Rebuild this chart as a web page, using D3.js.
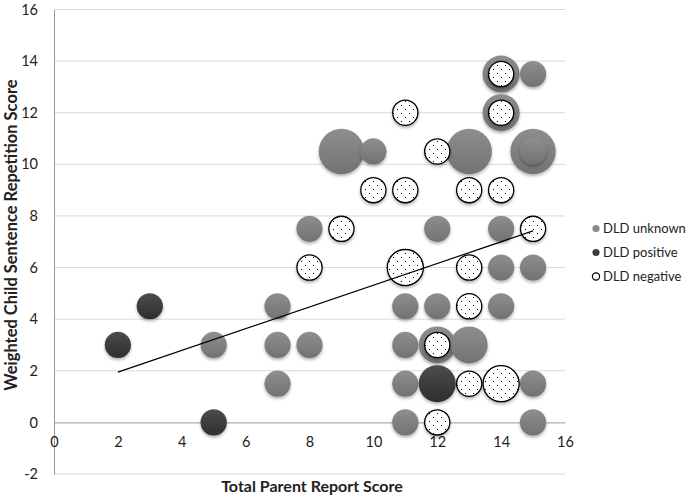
<!DOCTYPE html>
<html><head><meta charset="utf-8">
<script src="https://cdn.jsdelivr.net/npm/d3@7/dist/d3.min.js"></script>
<style>body{margin:0;background:#fff;}svg{display:block;font-family:Lato,"Open Sans",sans-serif;}</style>
</head><body><svg id="c" width="688" height="499"></svg>
<script>
// Data (x = Total Parent Report Score, y = Weighted Child Sentence Repetition Score, s = bubble size)
const unknownX = [5,7,7,7,8,8,9,10,11,11,11,11,12,12,12,13,13,14,14,14,14,14,15,15,15,15,15,15];
const unknownY = [3,4.5,3,1.5,7.5,3,10.5,10.5,4.5,3,1.5,0,7.5,4.5,3,10.5,3,13.5,12,7.5,6,4.5,13.5,10.5,10.5,6,1.5,0];
const unknownS = [1,1,1,1,1,1,3,1,1,1,1,1,1,1,2,3,2,2,2,1,1,1,1,3,1,1,1,1];
const positiveX = [2,3,5,12];
const positiveY = [3,4.5,0,1.5];
const positiveS = [1,1,1,2];
const negativeX = [14,11,14,12,10,11,13,14,9,15,8,11,13,13,12,13,14,12];
const negativeY = [13.5,12,12,10.5,9,9,9,9,7.5,7.5,6,6,6,4.5,3,1.5,1.5,0];
const negativeS = [1,1,1,1,1,1,1,1,1,1,1,2,1,1,1,1,2,1];
const trendX = [2,15];
const trendY = [1.95,7.42];
const xTicks = [0,2,4,6,8,10,12,14,16];
const yTicks = [-2,0,2,4,6,8,10,12,14,16];
const seriesNames = ["DLD unknown","DLD positive","DLD negative"];

const svg = d3.select("#c");
const x = d3.scaleLinear().domain([0,16]).range([54,565]);
const y = d3.scaleLinear().domain([-2,16]).range([474,9.5]);
const r = d3.scaleSqrt().domain([0,3]).range([0,22.7]);

const defs = svg.append("defs");
function grad(id, c1, c2){
  const g = defs.append("linearGradient").attr("id",id).attr("x1",0).attr("y1",0).attr("x2",0).attr("y2",1);
  g.append("stop").attr("offset","0%").attr("stop-color",c1);
  g.append("stop").attr("offset","100%").attr("stop-color",c2);
}
grad("gU","#8e8e8e","#727272");
grad("gP","#4c4c4c","#2e2e2e");
const f = defs.append("filter").attr("id","sh").attr("x","-30%").attr("y","-30%").attr("width","160%").attr("height","170%");
f.append("feDropShadow").attr("dx",0).attr("dy",2).attr("stdDeviation",1.5).attr("flood-color","#000").attr("flood-opacity",0.3);
const pat = defs.append("pattern").attr("id","dots").attr("patternUnits","userSpaceOnUse").attr("width",8).attr("height",8);
pat.append("rect").attr("width",8).attr("height",8).attr("fill","#fff");
pat.append("rect").attr("x",1).attr("y",1).attr("width",1).attr("height",1).attr("fill","#000");
pat.append("rect").attr("x",5).attr("y",5).attr("width",1).attr("height",1).attr("fill","#000");

// gridlines
svg.append("g").selectAll("line").data(yTicks.filter(d=>d!==0)).join("line")
  .attr("x1",x(0)).attr("x2",x(16)).attr("y1",d=>y(d)).attr("y2",d=>y(d))
  .attr("stroke","#d9d9d9").attr("stroke-width",1);

const fmt = d => String(d);
// axes
const yAxis = d3.axisLeft(y).tickValues(yTicks).tickSize(0).tickPadding(16).tickFormat(fmt);
const gy = svg.append("g").attr("transform",`translate(${x(0)},0)`).call(yAxis);
gy.select(".domain").attr("stroke","#999");
gy.selectAll("text").attr("font-size",14.5).attr("fill","#222").attr("font-family","Lato");

const xAxis = d3.axisBottom(x).tickValues(xTicks).tickSize(0).tickPadding(14).tickFormat(fmt);
const gx = svg.append("g").attr("transform",`translate(0,${y(0)})`).call(xAxis);
gx.select(".domain").attr("stroke","#999");
gx.selectAll("text").attr("font-size",14.5).attr("fill","#222").attr("font-family","Lato");

function pts(X,Y,S){ return X.map((v,i)=>({x:v,y:Y[i],s:S[i]})); }

const gU = svg.append("g");
gU.selectAll("circle").data(pts(unknownX,unknownY,unknownS)).join("circle")
  .attr("cx",d=>x(d.x)).attr("cy",d=>y(d.y)).attr("r",d=>r(d.s))
  .attr("fill","url(#gU)").attr("filter","url(#sh)");
const gP = svg.append("g");
gP.selectAll("circle").data(pts(positiveX,positiveY,positiveS)).join("circle")
  .attr("cx",d=>x(d.x)).attr("cy",d=>y(d.y)).attr("r",d=>r(d.s))
  .attr("fill","url(#gP)").attr("filter","url(#sh)");
const gN = svg.append("g");
gN.selectAll("circle").data(pts(negativeX,negativeY,negativeS)).join("circle")
  .attr("cx",d=>x(d.x)).attr("cy",d=>y(d.y)).attr("r",d=>r(d.s)-0.5)
  .attr("fill","url(#dots)").attr("stroke","#000").attr("stroke-width",1.3).attr("filter","url(#sh)");

// trendline
svg.append("path").datum(trendX.map((v,i)=>[v,trendY[i]]))
  .attr("d",d3.line().x(d=>x(d[0])).y(d=>y(d[1])))
  .attr("stroke","#000").attr("stroke-width",1.2).attr("fill","none");

// axis titles
svg.append("text").attr("x",312).attr("y",492).attr("text-anchor","middle")
  .attr("font-size",16).attr("font-weight","bold").attr("fill","#222").text("Total Parent Report Score");
svg.append("text").attr("transform","translate(17,235) rotate(-90)").attr("text-anchor","middle")
  .attr("font-size",16.5).attr("font-weight","bold").attr("fill","#222").text("Weighted Child Sentence Repetition Score");

// legend
const lg = svg.append("g").selectAll("g").data(seriesNames).join("g")
  .attr("transform",(d,i)=>`translate(596,${228.5+i*24})`);
lg.append("circle").attr("r",3.6)
  .attr("fill",(d,i)=>i===0?"#888":i===1?"#3c3c3c":"#fff")
  .attr("stroke",(d,i)=>i===2?"#000":"none").attr("stroke-width",1.2);
lg.append("text").attr("x",7).attr("y",4.5).attr("font-size",13).attr("fill","#222").text(d=>d);
</script></body></html>
